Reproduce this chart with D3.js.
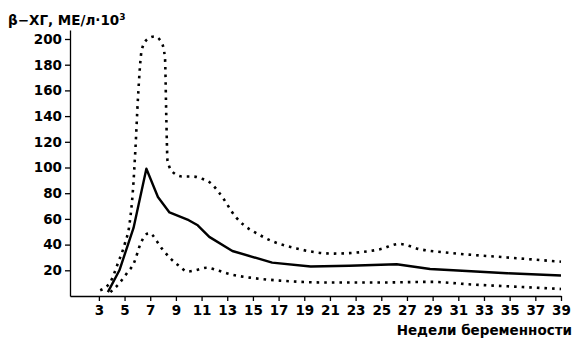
<!DOCTYPE html>
<html>
<head>
<meta charset="utf-8">
<script src="https://cdn.jsdelivr.net/npm/d3@7"></script>
<style>
  body { margin: 0; background: #fff; }
  svg text { font-family: "DejaVu Sans", sans-serif; font-weight: bold; fill: #000; }
</style>
</head>
<body>
<div id="chart"></div>
<script>
// weeks / values
var medianWeeks = [3.7, 4.6, 5.7, 6.7, 7.6, 8.5, 10, 10.7, 11.6, 13.4, 16.5, 19.5, 22.5, 26.2, 28.8, 30.6, 34.8, 39];
var medianVals  = [3, 20, 53, 99, 77, 65, 59, 55, 46, 35, 26, 23, 23.5, 24.7, 21, 20, 17.7, 16];

var upperWeeks = [3.1, 3.9, 4.5, 5.0, 5.4, 5.65, 5.85, 6.05, 6.35, 6.8, 7.35, 7.9, 8.15, 8.25, 8.35, 8.8, 9.5, 10.3, 11.1, 11.7, 12.4, 13.7, 15.8, 18.4, 21.2, 23.3, 24.9, 26.4, 28, 30.6, 34.8, 39];
var upperVals  = [4.5, 11, 26, 40, 57, 82, 115, 155, 192, 200, 202, 197, 185, 140, 105, 96, 93, 93, 91, 88, 80, 61, 46, 37, 33, 34, 36.4, 40.5, 36.4, 33.3, 30, 26.7];

var lowerWeeks = [3.9, 4.6, 5.2, 5.7, 6.3, 6.9, 7.9, 8.5, 9.3, 9.9, 10.5, 11.4, 12.2, 13.2, 15, 17.1, 20.7, 25, 28.8, 32, 36, 39];
var lowerVals  = [3, 10, 18, 25, 42, 49, 37, 30, 23, 19, 20, 22, 20, 17, 14, 12, 10.5, 10.5, 11, 9, 7, 5.5];

var xTicks = d3.range(3, 40, 2);
var yTicks = d3.range(20, 201, 20);

var width = 578, height = 351;

var svg = d3.select("#chart")
    .append("svg")
    .attr("width", width)
    .attr("height", height);

var x = d3.scaleLinear().domain([0.75, 39]).range([70, 561]);
var y = d3.scaleLinear().domain([0, 207]).range([296, 30]);

// axes
var xAxis = svg.append("g")
    .attr("transform", "translate(0," + y(0) + ")")
    .call(d3.axisBottom(x).tickValues(xTicks).tickSize(5).tickSizeOuter(0).tickPadding(4).tickFormat(d3.format("d")));
xAxis.select(".domain").attr("stroke-width", 1.3);
xAxis.selectAll(".tick line").attr("stroke-width", 1.3);
xAxis.selectAll("text").style("font-size", "13.5px");

var yAxis = svg.append("g")
    .attr("transform", "translate(" + x(0.75) + ",0)")
    .call(d3.axisLeft(y).tickValues(yTicks).tickSize(5).tickSizeOuter(0).tickPadding(3));
yAxis.select(".domain").attr("stroke-width", 1.3);
yAxis.selectAll(".tick line").attr("stroke-width", 1.3);
yAxis.selectAll("text").style("font-size", "13.5px");

// lines
var toPoints = (ws, vs) => ws.map((w, i) => [w, vs[i]]);

var line = d3.line().x(d => x(d[0])).y(d => y(d[1]));
var smooth = d3.line().x(d => x(d[0])).y(d => y(d[1])).curve(d3.curveMonotoneX);

svg.append("path")
    .datum(toPoints(upperWeeks, upperVals))
    .attr("d", smooth)
    .attr("fill", "none")
    .attr("stroke", "#000")
    .attr("stroke-width", 2.6)
    .attr("stroke-dasharray", "2.6,5");

svg.append("path")
    .datum(toPoints(lowerWeeks, lowerVals))
    .attr("d", smooth)
    .attr("fill", "none")
    .attr("stroke", "#000")
    .attr("stroke-width", 2.6)
    .attr("stroke-dasharray", "2.6,5");

svg.append("path")
    .datum(toPoints(medianWeeks, medianVals))
    .attr("d", line)
    .attr("fill", "none")
    .attr("stroke", "#000")
    .attr("stroke-width", 2.4)
    .attr("stroke-linejoin", "round");

// titles
var title = svg.append("text")
    .attr("x", 8)
    .attr("y", 24.5)
    .style("font-size", "13.5px");
title.append("tspan").text("β−ХГ, МЕ/л·10");
title.append("tspan").attr("dy", -5).style("font-size", "9px").text("3");

svg.append("text")
    .attr("x", 572)
    .attr("y", 335)
    .attr("text-anchor", "end")
    .style("font-size", "13.5px")
    .text("Недели беременности");
</script>
</body>
</html>
